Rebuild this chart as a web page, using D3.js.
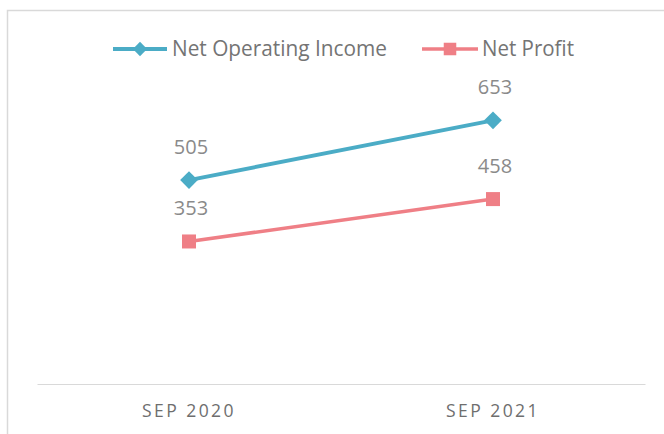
<!DOCTYPE html>
<html><head><meta charset="utf-8">
<script src="https://cdn.jsdelivr.net/npm/d3@7"></script>
<style>body{margin:0;background:#fff}svg{display:block}</style>
</head><body><svg id="c" width="664" height="434"></svg>
<script>
const categories = ["SEP 2020", "SEP 2021"];
const seriesNames = ["Net Operating Income", "Net Profit"];
const netOperatingIncome = [505, 653];
const netProfit = [353, 458];
const colors = ["#4bacc6", "#ef7f86"];

const svg = d3.select("#c");
const x = d3.scaleBand().domain(categories).range([37, 645]);
const y = d3.scaleLinear().domain([0, 800]).range([384, 61]);

// outer chart border (left and top visible)
svg.append("path").attr("d", "M7.5,434 V10.5 H664").attr("fill", "none")
  .attr("stroke", "#d9d9d9").attr("stroke-width", 1.5);

// category axis
const ax = svg.append("g").attr("transform", "translate(0,384)")
  .call(d3.axisBottom(x).tickSize(0).tickPadding(0));
ax.select(".domain").attr("stroke", "#d9d9d9").attr("stroke-width", 1.2);
ax.selectAll("text").attr("dy", 0).attr("y", 33)
  .attr("font-family", "'Open Sans', sans-serif").attr("font-size", 18)
  .attr("fill", "#6e6e6e").attr("letter-spacing", "2.5px")
  .attr("textLength", 94).attr("lengthAdjust", "spacingAndGlyphs");

const series = [
  {name: seriesNames[0], values: netOperatingIncome, color: colors[0], width: 4, shape: d3.symbolDiamond2, ms: 200, ls: 130},
  {name: seriesNames[1], values: netProfit, color: colors[1], width: 3.5, shape: d3.symbolSquare2, ms: 250, ls: 200}
];

const line = d3.line().x((d, i) => x(categories[i]) + x.bandwidth() / 2).y(d => y(d));

series.forEach(s => {
  const g = svg.append("g");
  g.append("path").datum(s.values).attr("d", line).attr("fill", "none")
    .attr("stroke", s.color).attr("stroke-width", s.width);
  g.selectAll("path.m").data(s.values).enter().append("path").attr("class", "m")
    .attr("transform", (d, i) => `translate(${x(categories[i]) + x.bandwidth() / 2},${y(d)})`)
    .attr("d", d3.symbol().type(s.shape).size(s.ms))
    .attr("fill", s.color);
  g.selectAll("text").data(s.values).enter().append("text")
    .attr("x", (d, i) => x(categories[i]) + x.bandwidth() / 2 + 2)
    .attr("y", d => y(d) - 26)
    .attr("text-anchor", "middle")
    .attr("font-family", "'Open Sans', sans-serif").attr("font-size", 20)
    .attr("fill", "#8a8a8a").text(d => d);
});

// legend
const legendItems = [
  {x0: 113, x1: 167, tx: 172, tl: 215},
  {x0: 422, x1: 478, tx: 482, tl: 92}
];
series.forEach((s, i) => {
  const L = legendItems[i];
  const g = svg.append("g");
  g.append("line").attr("x1", L.x0).attr("x2", L.x1).attr("y1", 49).attr("y2", 49)
    .attr("stroke", s.color).attr("stroke-width", s.width);
  g.append("path").attr("transform", `translate(${(L.x0 + L.x1) / 2},49)`)
    .attr("d", d3.symbol().type(s.shape).size(s.ls))
    .attr("fill", s.color);
  g.append("text").attr("x", L.tx).attr("y", 56)
    .attr("font-family", "'Open Sans', sans-serif").attr("font-size", 21)
    .attr("fill", "#747474").attr("textLength", L.tl).attr("lengthAdjust", "spacingAndGlyphs")
    .text(s.name);
});
</script></body></html>
